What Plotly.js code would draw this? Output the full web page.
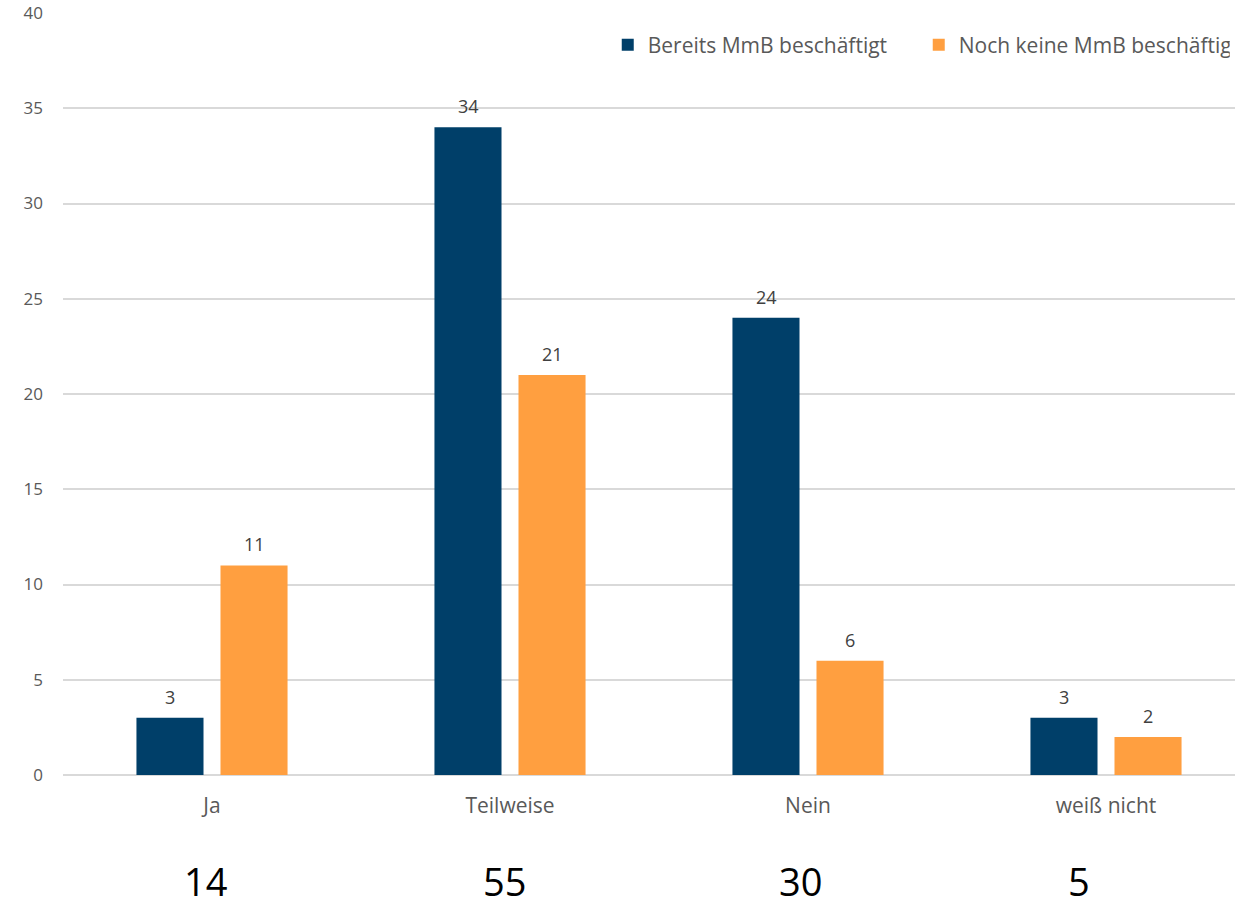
<!DOCTYPE html>
<html>
<head>
<meta charset="utf-8">
<script src="https://cdn.plot.ly/plotly-3.0.1.min.js"></script>
<style>
  html, body { margin: 0; padding: 0; overflow: hidden; background: #ffffff; }
  #chart { width: 1275px; height: 907px; }
</style>
</head>
<body>
<div id="chart"></div>
<script>
// Answer categories and counts per group
const categories = ['Ja', 'Teilweise', 'Nein', 'weiß nicht'];
const bereitsBeschaeftigt = [3, 34, 24, 3];
const nochKeineBeschaeftigt = [11, 21, 6, 2];
const totals = [14, 55, 30, 5];
const seriesNames = ['Bereits MmB beschäftigt', 'Noch keine MmB beschäftigt'];
const yTicks = [0, 5, 10, 15, 20, 25, 30, 35, 40];

const COLOR_DARK = '#003f69';
const COLOR_ORANGE = '#ff9f40';
const FONT = '"Open Sans", "Noto Sans", sans-serif';
const TEXT_GRAY = '#595959';

const traces = [
  {
    type: 'bar', name: seriesNames[0], x: categories, y: bereitsBeschaeftigt,
    marker: { color: COLOR_DARK }, hoverinfo: 'x+y+name'
  },
  {
    type: 'bar', name: seriesNames[1], x: categories, y: nochKeineBeschaeftigt,
    marker: { color: COLOR_ORANGE }, hoverinfo: 'x+y+name'
  }
];

// value labels above each bar
const annotations = [];
const seriesValues = [bereitsBeschaeftigt, nochKeineBeschaeftigt];
const barShift = [-42, 42];
seriesValues.forEach((vals, s) => {
  vals.forEach((v, i) => {
    annotations.push({
      x: categories[i], y: v, xref: 'x', yref: 'y',
      text: String(v), showarrow: false,
      xshift: barShift[s], yshift: 21, yanchor: 'middle',
      font: { family: FONT, size: 18, color: '#404040' }
    });
  });
});

// group totals below the axis
const totalShift = [-7, -6, -8, -27];
totals.forEach((t, i) => {
  annotations.push({
    x: categories[i], y: -0.139, xref: 'x', yref: 'paper',
    text: String(t), showarrow: false, xshift: totalShift[i],
    yanchor: 'middle',
    font: { family: FONT, size: 38, color: '#000000' }
  });
});

const layout = {
  width: 1275, height: 907,
  margin: { l: 63, r: 20, t: 13, b: 132 },
  paper_bgcolor: '#ffffff', plot_bgcolor: '#ffffff',
  font: { family: FONT, color: TEXT_GRAY },
  barmode: 'group',
  bargap: 0.436,
  bargroupgap: 0.202,
  showlegend: true,
  legend: {
    orientation: 'h', x: 0.457, xanchor: 'left', y: 0.958, yanchor: 'middle',
    entrywidth: 266,
    font: { family: FONT, size: 21, color: TEXT_GRAY },
    bgcolor: 'rgba(0,0,0,0)', traceorder: 'normal'
  },
  xaxis: {
    type: 'category', showgrid: false, zeroline: false, showline: false,
    ticks: '', ticklabelstandoff: 16,
    tickfont: { family: FONT, size: 21, color: TEXT_GRAY }
  },
  yaxis: {
    range: [0, 40], tickvals: yTicks, ticktext: yTicks.map(String),
    showgrid: true, gridcolor: '#d9d9d9', gridwidth: 1.5,
    zeroline: true, zerolinecolor: '#d9d9d9', zerolinewidth: 1.5,
    showline: false, ticks: '', ticklabelstandoff: 19,
    tickfont: { family: FONT, size: 17, color: TEXT_GRAY }
  },
  annotations: annotations
};

Plotly.newPlot('chart', traces, layout, { displayModeBar: false, responsive: false });
</script>
</body>
</html>
